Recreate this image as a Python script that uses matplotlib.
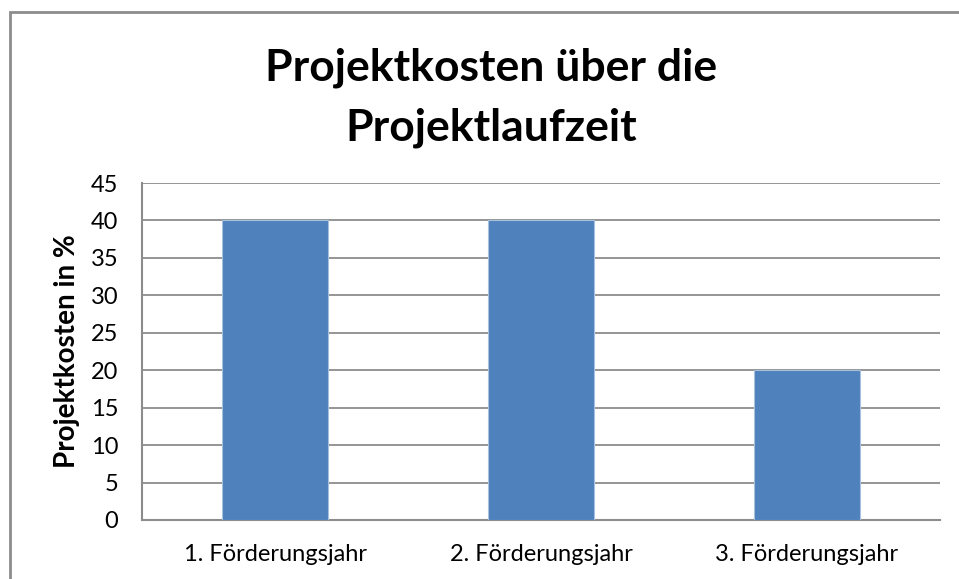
import matplotlib.pyplot as plt
from matplotlib.patches import Rectangle

# Daten
kategorien = ["1. Förderungsjahr", "2. Förderungsjahr", "3. Förderungsjahr"]
kosten = [40, 40, 20]
y_ticks = [0, 5, 10, 15, 20, 25, 30, 35, 40, 45]

plt.rcParams['font.family'] = ['Lato', 'DejaVu Sans']

fig = plt.figure(figsize=(9.59, 5.79), dpi=100)
ax = fig.add_axes([142/959, 1 - 520/579, 798/959, (520-183)/579])

# Rahmen um das Diagramm (rechts und unten abgeschnitten)
fig.patches.append(Rectangle((10/959, -0.1), 1.2, 567/579 + 0.1,
                             transform=fig.transFigure, fill=False,
                             edgecolor='#8c8c8c', linewidth=2))

pos = range(len(kategorien))
ax.bar(pos, kosten, width=0.4, color='#4F81BD', edgecolor='#A7C0DE', linewidth=0.8, zorder=3)

ax.set_xlim(-0.5, 2.5)
ax.set_ylim(0, 45)
ax.set_yticks(y_ticks)
ax.set_xticks(list(pos))
ax.set_xticklabels(kategorien)
ax.grid(axis='y', color='#8c8c8c', linewidth=1.3, zorder=0)
ax.tick_params(axis='both', length=0, labelsize=17, colors='black')
ax.tick_params(axis='y', pad=17)
ax.tick_params(axis='x', pad=17)

for s in ['top', 'right']:
    ax.spines[s].set_visible(False)
for s in ['left', 'bottom']:
    ax.spines[s].set_color('#8c8c8c')
    ax.spines[s].set_linewidth(1.5)

ax.set_ylabel("Projektkosten in %", fontsize=20, fontweight='bold', labelpad=8)
fig.text(0.512, 1 - 98/579, "Projektkosten über die\nProjektlaufzeit", ha='center', va='center',
         fontsize=32, fontweight='bold', linespacing=1.6)

fig.savefig("out.png", dpi=100)
